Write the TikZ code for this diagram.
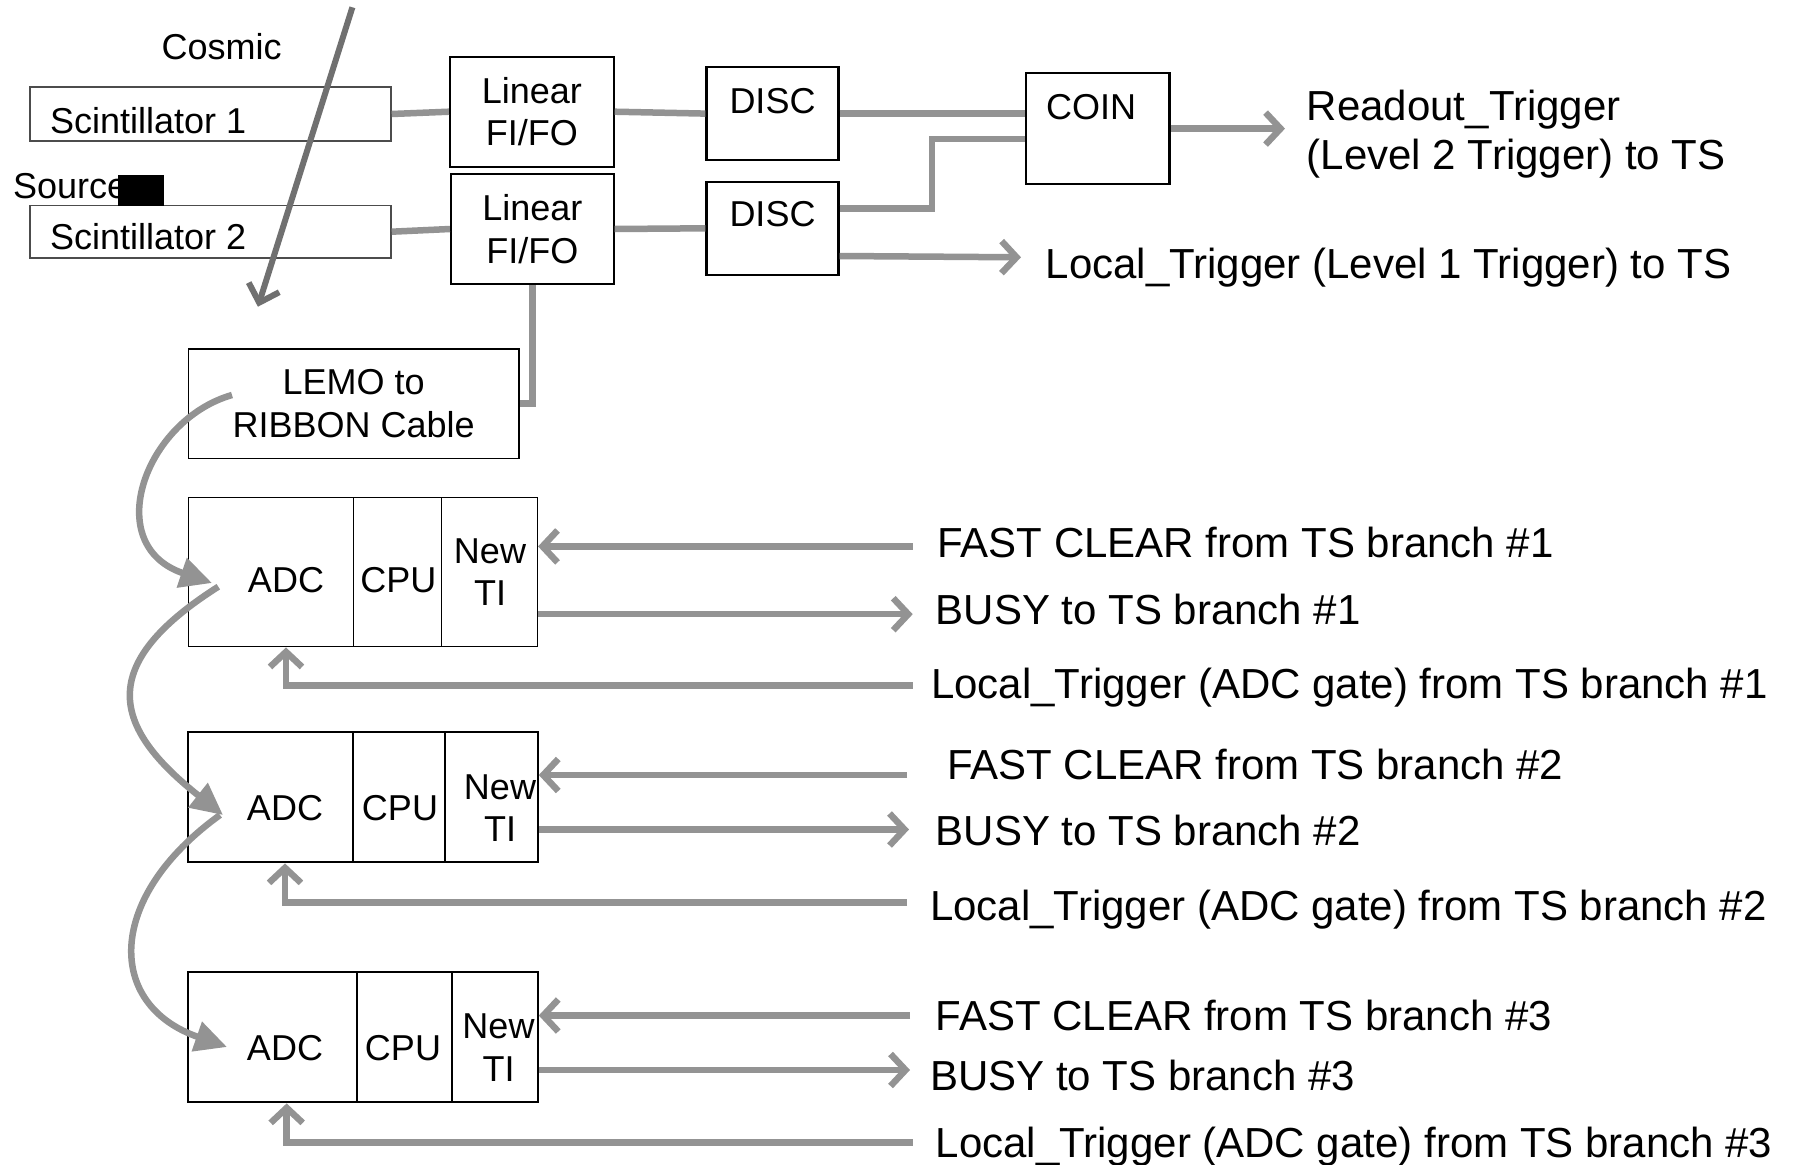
\documentclass[tikz,border=0pt]{standalone}
\usepackage{fontspec}
\setmainfont{Liberation Sans}
\usetikzlibrary{arrows.meta,calc}
\definecolor{connc}{HTML}{939393}
\definecolor{cosmc}{HTML}{707070}
\begin{document}
\begin{tikzpicture}[x=1pt,y=-1pt,
  box/.style={draw=black, line width=2.2pt, fill=white, inner sep=0pt, font=\fontsize{36}{42.5}\selectfont, align=center},
  thinbox/.style={box, line width=1.5pt},
  scint/.style={draw=black!70, line width=1.5pt, fill=white, inner sep=0pt},
  txt/.style={inner sep=0pt, font=\fontsize{36}{42.5}\selectfont, text height=25.9pt, text depth=0pt},
  mtxt/.style={inner sep=0pt, font=\fontsize{36}{42.5}\selectfont, align=center},
  lbl/.style={inner sep=0pt, anchor=west, font=\fontsize{42}{49}\selectfont, text height=30.2pt, text depth=0pt},
  lbltwo/.style={inner sep=0pt, anchor=west, font=\fontsize{42}{49}\selectfont, align=left},
  wire/.style={draw=connc, line width=6.5pt},
  arr/.style={wire, -{Straight Barb[length=15pt,width=32pt]}},
  carr/.style={wire, -{Triangle[length=32pt,width=30pt]}},
]
\fill[white] (0,0) rectangle (1800,1165);
\useasboundingbox (0,0) rectangle (1800,1165);

% top part
\node[txt] (cosmic) at (221.6,46.3) {Cosmic};
\node[scint, minimum width=361pt, minimum height=54pt] (scint1) at (210.5,114) {};
\node[txt, anchor=west] (s1t) at (49.8,120.3) {Scintillator 1};
\node[scint, minimum width=361pt, minimum height=52.5pt] (scint2) at (210.5,231.7) {};
\node[txt, anchor=west] (s2t) at (49.8,237) {Scintillator 2};
\node[txt, anchor=west] (source) at (13,185.5) {Source};
\node[fill=black, minimum width=46pt, minimum height=30.4pt, inner sep=0pt] (srcblk) at (141,190.5) {};

\node[box, minimum width=163.6pt, minimum height=110pt] (lin1) at (531.8,111.7) {Linear\\FI/FO};
\node[box, minimum width=162.6pt, minimum height=110pt] (lin2) at (532.3,229) {Linear\\FI/FO};
\node[box, minimum width=132pt, minimum height=92.7pt] (disc1) at (772.5,113.6) {};
\node[txt] (disc1t) at (772.5,100.5) {DISC};
\node[box, minimum width=132pt, minimum height=93.3pt] (disc2) at (772.5,228.3) {};
\node[txt] (disc2t) at (772.5,214) {DISC};
\node[box, minimum width=143.8pt, minimum height=110.7pt] (coin) at (1097.5,128.6) {};
\node[txt] (coint) at (1091,107) {COIN};
\node[thinbox, minimum width=330.7pt, minimum height=109.3pt] (lemo) at (353.6,403.7) {LEMO to\\RIBBON Cable};

\coordinate (ro) at (1285,128.6);
\coordinate (l1) at (1021,257.3);
\node[lbltwo] (readout) at (1306.7,134) {Readout\_Trigger\\(Level 2 Trigger) to TS};
\node[lbl] (loc1) at (1045.5,263.5) {Local\_Trigger (Level 1 Trigger) to TS};

\draw[wire] (scint1.east) -- (lin1.west);
\draw[wire] (scint2.east) -- (lin2.west);
\draw[wire] (lin1.east) -- (disc1.west);
\draw[wire] (lin2.east) -- (disc2.west);
\draw[wire] (disc1.east) -- (disc1.east -| coin.west);
\draw[wire] ([yshift=20pt]disc2.east) -- ++(92.4,0) |- ([yshift=-10.4pt]coin.west);
\draw[arr] (coin.east) -- (ro);
\draw[arr] ([yshift=-27.7pt]disc2.east) -- (l1);
\draw[wire] (lin2.south) |- (lemo.east);

% ADC crate 1
\node[thinbox, minimum width=165pt, minimum height=149.4pt] (adc1) at (270.8,572) {};
\node[thinbox, minimum width=88.4pt, minimum height=149.4pt] (cpu1) at (397.5,572) {};
\node[thinbox, minimum width=95.6pt, minimum height=149.4pt] (ti1) at (489.5,572) {};
\node[txt] (adc1t) at (286,580) {ADC};
\node[txt] (cpu1t) at (398.4,580) {CPU};
\node[mtxt] (ti1t) at (490,572) {New\\TI};

% ADC crate 2
\node[box, minimum width=165.6pt, minimum height=130pt] (adc2) at (270.5,797.3) {};
\node[box, minimum width=91.7pt, minimum height=130pt] (cpu2) at (399.2,797.3) {};
\node[box, minimum width=92.7pt, minimum height=130pt] (ti2) at (491.35,797.3) {};
\node[txt] (adc2t) at (285,808) {ADC};
\node[txt] (cpu2t) at (400,808) {CPU};
\node[mtxt] (ti2t) at (500,808) {New\\TI};

% ADC crate 3
\node[box, minimum width=169pt, minimum height=130pt] (adc3) at (272.2,1037.3) {};
\node[box, minimum width=95pt, minimum height=130pt] (cpu3) at (404.2,1037.3) {};
\node[box, minimum width=86pt, minimum height=130pt] (ti3) at (494.7,1037.3) {};
\node[txt] (adc3t) at (285,1048) {ADC};
\node[txt] (cpu3t) at (403,1048) {CPU};
\node[mtxt] (ti3t) at (498.5,1047.5) {New\\TI};

% free ends
\coordinate (fc1) at (912.7,546.4);
\coordinate (bz1) at (912.7,614.2);
\coordinate (lt1) at (912.7,685.4);
\coordinate (fc2) at (907,775);
\coordinate (bz2) at (909,829.5);
\coordinate (lt2) at (907,902.3);
\coordinate (fc3) at (910,1015.5);
\coordinate (bz3) at (910,1070);
\coordinate (lt3) at (912.7,1142.3);

\draw[arr] (fc1) -- (fc1 -| ti1.east);
\draw[arr] (bz1 -| ti1.east) -- (bz1);
\draw[arr] (lt1) -| ([xshift=15.2pt]adc1.south);
\draw[arr] (fc2) -- (fc2 -| ti2.east);
\draw[arr] (bz2 -| ti2.east) -- (bz2);
\draw[arr] (lt2) -| ([xshift=14.5pt]adc2.south);
\draw[arr] (fc3) -- (fc3 -| ti3.east);
\draw[arr] (bz3 -| ti3.east) -- (bz3);
\draw[arr] (lt3) -| ([xshift=14.5pt]adc3.south);

\node[lbl] (fc1t) at (937.3,542.7) {FAST CLEAR from TS branch \#1};
\node[lbl] (bz1t) at (935.6,609.6) {BUSY to TS branch \#1};
\node[lbl] (lt1t) at (931,683) {Local\_Trigger (ADC gate) from TS branch \#1};
\node[lbl] (fc2t) at (947,764.6) {FAST CLEAR from TS branch \#2};
\node[lbl] (bz2t) at (935.6,830) {BUSY to TS branch \#2};
\node[lbl] (lt2t) at (930,905.8) {Local\_Trigger (ADC gate) from TS branch \#2};
\node[lbl] (fc3t) at (935.6,1015) {FAST CLEAR from TS branch \#3};
\node[lbl] (bz3t) at (930,1075.6) {BUSY to TS branch \#3};
\node[lbl] (lt3t) at (935.6,1142) {Local\_Trigger (ADC gate) from TS branch \#3};

% ribbon curves
\coordinate (k0) at (232,395);
\coordinate (k1) at (212,583);
\coordinate (k1s) at (218.3,586.7);
\coordinate (k2) at (223,815);
\coordinate (k2s) at (220,815);
\coordinate (k3) at (227,1047);
\draw[carr] (k0) .. controls (145,420) and (100,545) .. (k1);
\draw[carr] (k1s) .. controls (95,665) and (112,727) .. (k2);
\draw[carr] (k2s) .. controls (105,898) and (106,1005) .. (k3);

% cosmic ray
\coordinate (cs) at (352.4,7.3);
\coordinate (ce) at (257.9,306.7);
\draw[draw=cosmc, line width=6pt, -{Straight Barb[length=16pt,width=32pt]}] (cs) -- (ce);
\end{tikzpicture}
\end{document}
